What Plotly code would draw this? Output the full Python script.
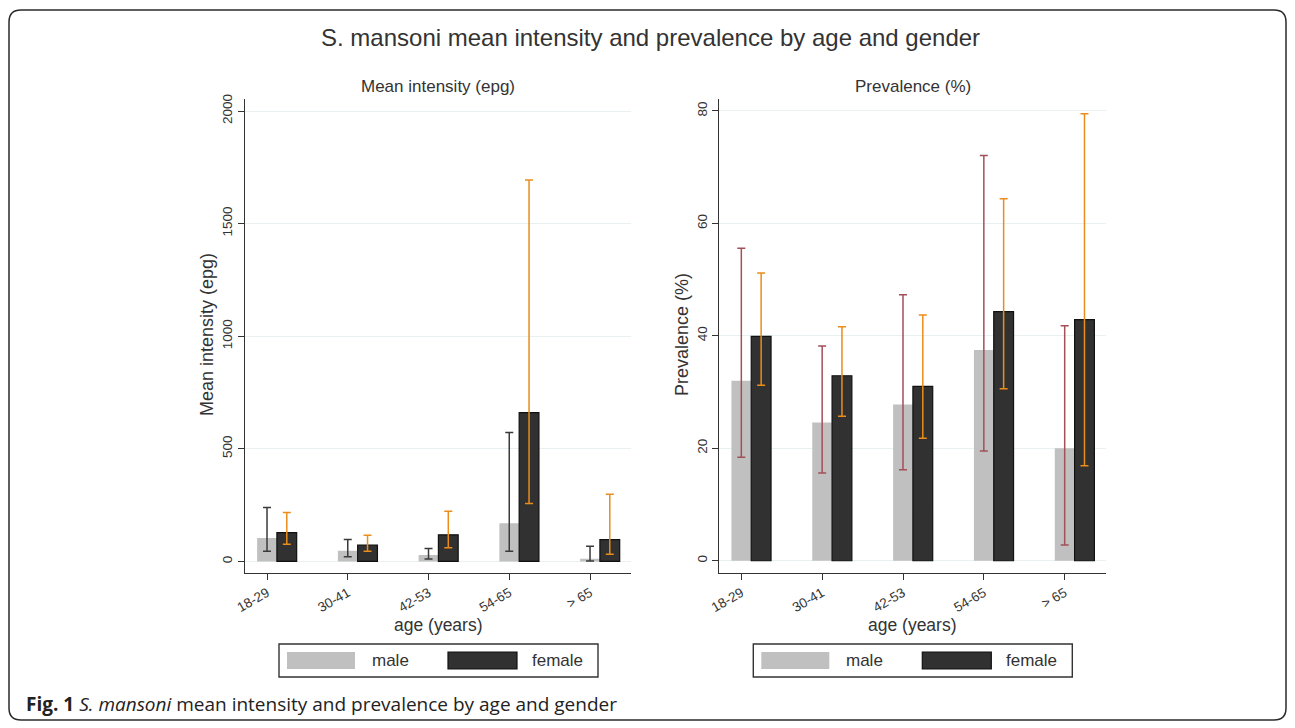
import plotly.graph_objects as go

# ---------------- data ----------------
age_groups = ["18-29", "30-41", "42-53", "54-65", "> 65"]

intensity_male = [104, 48, 29, 170, 12]
intensity_male_lo = [45, 21, 11, 45, 2]
intensity_male_hi = [239, 97, 57, 572, 67]

intensity_female = [128, 73, 118, 661, 97]
intensity_female_lo = [76, 45, 61, 257, 32]
intensity_female_hi = [217, 116, 223, 1694, 298]

prev_male = [32.0, 24.6, 27.8, 37.5, 20.0]
prev_male_lo = [18.4, 15.6, 16.2, 19.5, 2.8]
prev_male_hi = [55.6, 38.2, 47.3, 72.1, 41.8]

prev_female = [39.9, 32.9, 31.0, 44.3, 42.9]
prev_female_lo = [31.2, 25.7, 21.8, 30.6, 16.9]
prev_female_hi = [51.2, 41.6, 43.7, 64.4, 79.5]

intensity_ticks = [0, 500, 1000, 1500, 2000]
prev_ticks = [0, 20, 40, 60, 80]

# ---------------- style ----------------
W, H = 1295, 728
FONT = "Liberation Sans, Arial, sans-serif"
TXT = "#333333"
MALE_C = "#c0c0c0"
FEMALE_C = "#313131"
ORANGE = "#eb8c1b"
BAR_W = 0.245
GRID = "#e9f0f2"

def px(x):
    return x / W

def py(y):
    return 1 - y / H

idx = list(range(len(age_groups)))
tickpos = [i - BAR_W / 2 for i in idx]

fig = go.Figure()

def add_pair(xa, ya, m, mlo, mhi, f, flo, fhi, male_err_color):
    fig.add_trace(go.Bar(
        x=idx, y=m, width=BAR_W, offset=-BAR_W, name="male",
        marker=dict(color=MALE_C, line=dict(width=0)),
        error_y=dict(type="data", symmetric=False,
                     array=[h - v for h, v in zip(mhi, m)],
                     arrayminus=[v - l for v, l in zip(m, mlo)],
                     color=male_err_color, thickness=1.5, width=4),
        xaxis=xa, yaxis=ya, showlegend=False))
    fig.add_trace(go.Bar(
        x=idx, y=f, width=BAR_W, offset=0, name="female",
        marker=dict(color=FEMALE_C, line=dict(width=1.2, color="#111111")),
        error_y=dict(type="data", symmetric=False,
                     array=[h - v for h, v in zip(fhi, f)],
                     arrayminus=[v - l for v, l in zip(f, flo)],
                     color=ORANGE, thickness=1.5, width=4),
        xaxis=xa, yaxis=ya, showlegend=False))

add_pair("x", "y", intensity_male, intensity_male_lo, intensity_male_hi,
         intensity_female, intensity_female_lo, intensity_female_hi, "#3a3a3a")
add_pair("x2", "y2", prev_male, prev_male_lo, prev_male_hi,
         prev_female, prev_female_lo, prev_female_hi, "#a34f58")

left_dom = [px(245), px(631)]
right_dom = [px(719.3), px(1105.7)]
ydom = [py(572.7), py(99.3)]

xaxis_common = dict(
    tickmode="array", tickvals=tickpos, ticktext=age_groups,
    tickangle=-30, ticks="outside", ticklen=6, tickwidth=1.2, tickcolor=TXT,
    showline=True, linecolor=TXT, linewidth=1.4, showgrid=False,
    zeroline=False, range=[-0.395, 4.385], automargin=False,
    tickfont=dict(family=FONT, size=13.5, color=TXT),
)
yaxis_common = dict(
    tickmode="array", tickangle=-90, ticks="outside", ticklen=6,
    tickwidth=1.2, tickcolor=TXT, showline=True, linecolor=TXT,
    linewidth=1.4, showgrid=True, gridcolor=GRID, gridwidth=1,
    zeroline=False, automargin=False,
    tickfont=dict(family=FONT, size=13.5, color=TXT),
)

fig.update_layout(
    width=W, height=H, autosize=False,
    margin=dict(l=0, r=0, t=0, b=0, pad=0),
    paper_bgcolor="white", plot_bgcolor="white",
    barmode="overlay", showlegend=False,
    xaxis=dict(domain=left_dom, anchor="y", **xaxis_common),
    xaxis2=dict(domain=right_dom, anchor="y2", **xaxis_common),
    yaxis=dict(domain=ydom, anchor="x", range=[-50, 2052],
               tickvals=intensity_ticks, **yaxis_common),
    yaxis2=dict(domain=ydom, anchor="x2", range=[-2.13, 82.08],
                tickvals=prev_ticks, **yaxis_common),
    font=dict(family=FONT, color=TXT),
)

ann = []
def text(x, y, s, size, angle=0, xanchor="center", family=FONT, color=TXT):
    ann.append(dict(x=px(x), y=py(y), xref="paper", yref="paper", text=s,
                    showarrow=False, textangle=angle, xanchor=xanchor,
                    yanchor="middle", font=dict(family=family, size=size, color=color)))

text(650, 37, "S. mansoni mean intensity and prevalence by age and gender", 24)
text(438, 86, "Mean intensity (epg)", 17)
text(912.5, 86, "Prevalence (%)", 17)
text(207, 335, "Mean intensity (epg)", 18, angle=-90)
text(682, 335, "Prevalence (%)", 18, angle=-90)
text(438, 625, "age (years)", 17.5)
text(912.5, 625, "age (years)", 17.5)
text(24, 704, "<b>Fig. 1</b> <i>S. mansoni</i> mean intensity and prevalence by age and gender",
     19, xanchor="left", family="Open Sans, sans-serif", color="#222222")

shapes = []
# legends
for left in (245, 719.3):
    shapes.append(dict(type="rect", xref="paper", yref="paper",
                       x0=px(left + 34), x1=px(left + 353), y0=py(677), y1=py(644),
                       line=dict(color=TXT, width=1.4), fillcolor="white"))
    shapes.append(dict(type="rect", xref="paper", yref="paper",
                       x0=px(left + 42), x1=px(left + 110), y0=py(669), y1=py(652),
                       line=dict(width=0), fillcolor=MALE_C))
    shapes.append(dict(type="rect", xref="paper", yref="paper",
                       x0=px(left + 203), x1=px(left + 272), y0=py(669), y1=py(652),
                       line=dict(color="#111111", width=1.2), fillcolor=FEMALE_C))
    text(left + 125, 660, "male", 17, xanchor="left")
    text(left + 285, 660, "female", 17, xanchor="left")

# rounded outer frame
x0, x1, y0, y1, r = 9, 1286, 10, 720, 12
path = (f"M {px(x0 + r)},{py(y0)} L {px(x1 - r)},{py(y0)} "
        f"Q {px(x1)},{py(y0)} {px(x1)},{py(y0 + r)} "
        f"L {px(x1)},{py(y1 - r)} Q {px(x1)},{py(y1)} {px(x1 - r)},{py(y1)} "
        f"L {px(x0 + r)},{py(y1)} Q {px(x0)},{py(y1)} {px(x0)},{py(y1 - r)} "
        f"L {px(x0)},{py(y0 + r)} Q {px(x0)},{py(y0)} {px(x0 + r)},{py(y0)} Z")
shapes.append(dict(type="path", xref="paper", yref="paper", path=path,
                   line=dict(color="#2a2a2a", width=1.5)))

fig.update_layout(annotations=ann, shapes=shapes)
fig.write_html("out.html", config={"displayModeBar": False},
               post_script="document.body.style.margin='0';document.body.style.overflow='hidden';")
